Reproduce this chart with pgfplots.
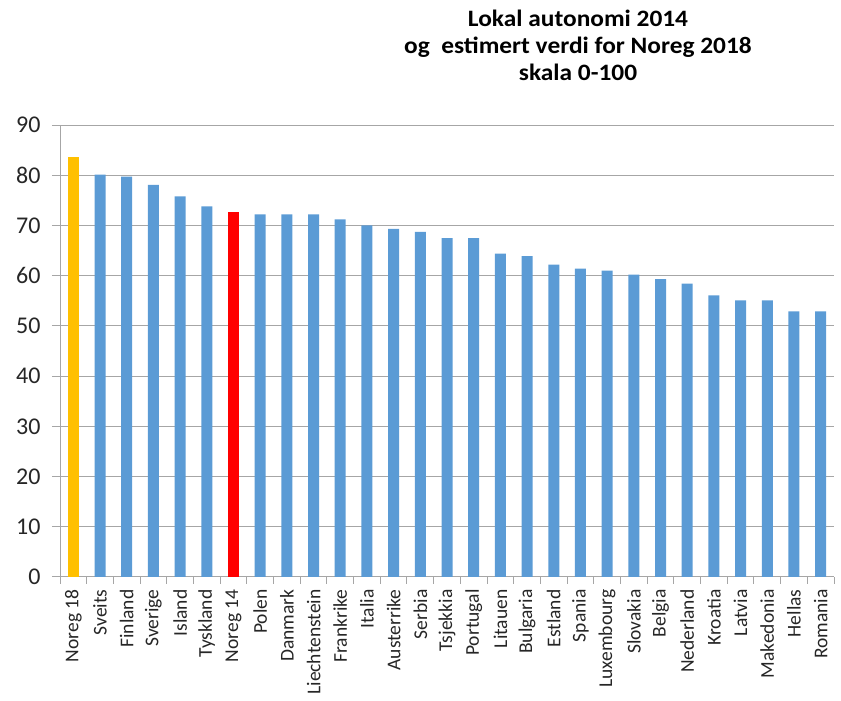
\documentclass[border=0pt]{standalone}
\usepackage{pgfplots}
\pgfplotsset{compat=1.18}
\usepackage{fontspec}
\setmainfont{Carlito}
\newfontfamily\titlefont[FakeStretch=1.08]{Carlito}
\definecolor{barblue}{HTML}{5B9BD5}
\definecolor{baryellow}{HTML}{FFC000}
\definecolor{barred}{HTML}{FF0000}
\definecolor{gridgray}{HTML}{A6A6A6}
\begin{document}
\begin{tikzpicture}
\useasboundingbox (-60pt,-124pt) rectangle (781pt,577pt);
\begin{axis}[
  at={(0pt,0pt)}, anchor=south west,
  scale only axis, width=774pt, height=452pt,
  xmin=-0.5, xmax=28.5, ymin=0, ymax=90,
  ytick distance=10,
  xtick={0,...,28},
  xticklabels={Noreg 18,Sveits,Finland,Sverige,Island,Tyskland,Noreg 14,Polen,Danmark,Liechtenstein,Frankrike,Italia,Austerrike,Serbia,Tsjekkia,Portugal,Litauen,Bulgaria,Estland,Spania,Luxembourg,Slovakia,Belgia,Nederland,Kroatia,Latvia,Makedonia,Hellas,Romania},
  minor xtick={-0.5,0.5,...,28.5},
  axis x line*=bottom, axis y line*=left,
  axis line style={-, draw=gridgray, line width=1pt},
  tick align=outside,
  major x tick style={draw=none},
  minor x tick style={draw=gridgray, line width=1pt},
  minor tick length=7pt,
  major y tick style={draw=gridgray, line width=1pt},
  major tick length=8pt,
  ymajorgrids, grid style={draw=gridgray, line width=1pt},
  /pgf/number format/assume math mode=true,
  yticklabel style={font=\fontsize{24}{24}\selectfont, color=black!85, xshift=-8pt},
  xticklabel style={font=\fontsize{19.5}{20}\selectfont, color=black!85, rotate=90, anchor=east, xshift=-1pt},
  ybar, bar width=11pt, bar shift=0pt,
]
\addplot[fill=barblue, draw=none] coordinates {
 (1,80.1) (2,79.7) (3,78.1) (4,75.8) (5,73.8)
 (7,72.2) (8,72.2) (9,72.2) (10,71.2) (11,70.0) (12,69.3) (13,68.7) (14,67.5) (15,67.5)
 (16,64.4) (17,63.9) (18,62.2) (19,61.4) (20,61.0) (21,60.2) (22,59.3) (23,58.4)
 (24,56.1) (25,55.1) (26,55.1) (27,52.9) (28,52.9)};
\addplot[fill=baryellow, draw=none] coordinates {(0,83.7)};
\addplot[fill=barred, draw=none] coordinates {(6,72.6)};
\end{axis}
\node[align=center, font=\titlefont\bfseries\fontsize{23.5}{27}\selectfont] at (518pt,532pt)
 {Lokal autonomi 2014\\og\ \ estimert verdi for Noreg 2018\\skala 0-100};
\end{tikzpicture}
\end{document}
